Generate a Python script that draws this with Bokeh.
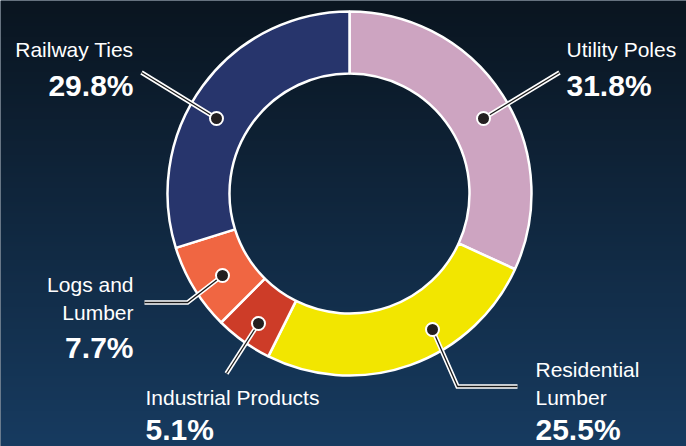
import numpy as np
from bokeh.plotting import figure
from bokeh.models import Range1d
from bokeh.core.properties import value
from bokeh.embed import file_html
from bokeh.resources import INLINE

# ---------------- data ----------------
categories = ["Utility Poles", "Residential Lumber", "Industrial Products", "Logs and Lumber", "Railway Ties"]
shares = [31.8, 25.5, 5.1, 7.7, 29.8]
label_names = [["Utility Poles"], ["Residential", "Lumber"], ["Industrial Products"], ["Logs and", "Lumber"], ["Railway Ties"]]
pct_labels = ["31.8%", "25.5%", "5.1%", "7.7%", "29.8%"]
colors = ["#cda4c1", "#f2e600", "#cd3c28", "#f06642", "#27356c"]

# ---------------- layout (pixel coords, y down) ----------------
W, H = 686, 446
CX, CY = 349, 193
R_OUT, R_IN = 182, 120
NAME_SIZE, PCT_SIZE = 21, 30
NAME_SHIFT, PCT_SHIFT = 8, 11   # compensation for renderer baseline offset
layout = [
    dict(dot=(483, 118), path=[(483, 118), (559, 72)], tx=566, align="left", names_y=[57], pct_y=96),
    dict(dot=(432, 329), path=[(432, 329), (457, 386), (517, 386)], tx=535, align="left", names_y=[377, 405], pct_y=440),
    dict(dot=(258, 323), path=[(258, 323), (226, 373)], tx=145, align="left", names_y=[405], pct_y=440),
    dict(dot=(222, 275), path=[(222, 275), (187, 302), (144, 302)], tx=133, align="right", names_y=[292, 320], pct_y=358),
    dict(dot=(216, 118), path=[(216, 118), (141, 72)], tx=133, align="right", names_y=[57], pct_y=96),
]

def fy(py):
    return H - py

p = figure(width=W, height=H, output_backend="svg", toolbar_location=None,
           x_range=Range1d(0, W), y_range=Range1d(0, H), min_border=0)
p.axis.visible = False
p.grid.visible = False
p.outline_line_color = None
p.border_fill_color = "#0f2740"
p.background_fill_color = "#0f2740"

# background gradient
n = 200
top = np.array([10, 21, 32])
bot = np.array([23, 59, 96])
img = np.empty((n, 1), dtype=np.uint32)
view = img.view(dtype=np.uint8).reshape((n, 1, 4))
for i in range(n):
    t = i / (n - 1)  # 0 bottom, 1 top
    c = bot * (1 - t) + top * t
    view[i, 0, 0] = int(c[0]); view[i, 0, 1] = int(c[1]); view[i, 0, 2] = int(c[2]); view[i, 0, 3] = 255
p.image_rgba(image=[img], x=0, y=0, dw=W, dh=H)

# donut
total = sum(shares)
cum = np.concatenate([[0], np.cumsum(shares)])
starts = [np.pi / 2 - cum[i] / total * 2 * np.pi for i in range(len(shares))]
ends = [np.pi / 2 - cum[i + 1] / total * 2 * np.pi for i in range(len(shares))]
p.annular_wedge(x=CX, y=fy(CY), inner_radius=R_IN, outer_radius=R_OUT,
                start_angle=starts, end_angle=ends, direction="clock",
                fill_color=colors, line_color="white", line_width=2.5)

# leader lines
xs = [[pt[0] for pt in L["path"]] for L in layout]
ys = [[fy(pt[1]) for pt in L["path"]] for L in layout]
p.multi_line(xs=xs, ys=ys, line_color="white", line_width=4.5, line_join="miter")
p.multi_line(xs=xs, ys=ys, line_color="#1a1a1a", line_width=1.3, line_join="miter")
p.scatter(x=[L["dot"][0] for L in layout], y=[fy(L["dot"][1]) for L in layout],
          size=13, fill_color="#231f20", line_color="white", line_width=2)

# labels
FONT = value("Liberation Sans")
for L, names, pct in zip(layout, label_names, pct_labels):
    for nm, by in zip(names, L["names_y"]):
        p.text(x=[L["tx"]], y=[fy(by - NAME_SHIFT)], text=[nm], text_font=FONT,
               text_font_size=f"{NAME_SIZE}px", text_color="white",
               text_align=L["align"], text_baseline="alphabetic")
    p.text(x=[L["tx"]], y=[fy(L["pct_y"] - PCT_SHIFT)], text=[pct], text_font=FONT,
           text_font_size=f"{PCT_SIZE}px", text_font_style="bold", text_color="white",
           text_align=L["align"], text_baseline="alphabetic")

open("out.html", "w").write(file_html(p, INLINE))
